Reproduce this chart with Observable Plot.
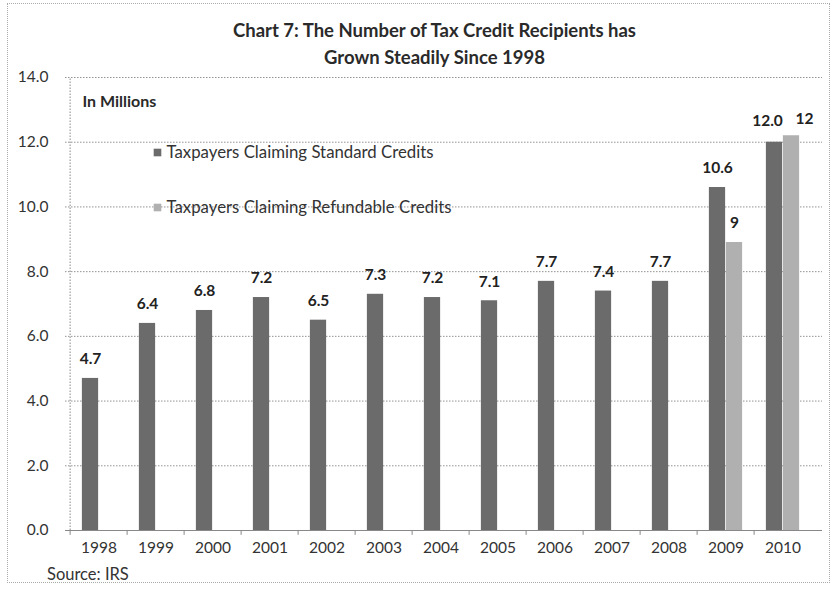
<!DOCTYPE html>
<html><head><meta charset="utf-8">
<script src="https://cdn.jsdelivr.net/npm/d3@7"></script>
<script src="https://cdn.jsdelivr.net/npm/@observablehq/plot@0.6"></script>
<style>
body{margin:0;background:#fff;font-family:Lato,"Open Sans",sans-serif;}
#wrap{position:relative;width:833px;height:592px;overflow:hidden;background:#fff;}
#frame{position:absolute;left:7px;top:3px;width:823px;height:580px;border:1px dotted #aaa;box-sizing:border-box;pointer-events:none;z-index:2;}
#title{height:62px;box-sizing:border-box;padding-top:17px;padding-left:36px;text-align:center;font-weight:bold;font-size:18.5px;line-height:27px;color:#2a2a2a;}
#caption{height:30px;box-sizing:border-box;padding-left:47px;padding-top:2px;font-size:16.5px;color:#333;}
#chart svg{display:block;overflow:visible;}
</style>
</head><body>
<div id="wrap">
<div id="frame"></div>
<div id="title">Chart 7: The Number of Tax Credit Recipients has<br>Grown Steadily Since 1998</div>
<div id="chart"></div>
<div id="caption">Source: IRS</div>
</div>
<script>
const years = ["1998","1999","2000","2001","2002","2003","2004","2005","2006","2007","2008","2009","2010"];
const standard = [4.7,6.4,6.8,7.2,6.5,7.3,7.2,7.1,7.7,7.4,7.7,10.6,12.0];
const standardLabels = ["4.7","6.4","6.8","7.2","6.5","7.3","7.2","7.1","7.7","7.4","7.7","10.6","12.0"];
const refundYears = ["2009","2010"];
const refundable = [8.9,12.2];
const refundLabels = ["9","12"];
const yTicks = [0,2,4,6,8,10,12,14];
const seriesNames = ["Taxpayers Claiming Standard Credits","Taxpayers Claiming Refundable Credits"];
const unitLabel = ["In Millions"];

const stdColor = "#6b6b6b", refColor = "#b0b0b0";
const stdData = years.map((y,i)=>({year:y,value:standard[i],label:standardLabels[i]}));
const refData = refundYears.map((y,i)=>({year:y,value:refundable[i],label:refundLabels[i]}));
const lastYear = years[years.length-1];

const W=833, H=500, mL=65, mR=17;
const bw = (W-mL-mR)/years.length, barW = 17;
const labelFont = {fontWeight:"bold", fontSize:15.5, fill:"#222"};

const chart = Plot.plot({
  width:W, height:H,
  marginTop:15, marginBottom:32, marginLeft:mL, marginRight:mR,
  style:{fontFamily:"Lato, 'Open Sans', sans-serif", background:"white", color:"#333", overflow:"visible"},
  x:{type:"band", domain:years, padding:0, label:null},
  y:{domain:[0,14], label:null},
  marks:[
    Plot.gridY(yTicks,{stroke:"#777", strokeOpacity:1, strokeDasharray:"1.5,1.5", strokeWidth:0.8, insetRight:-6}),
    Plot.ruleX([years[0]],{dx:-bw/2, y1:0, y2:14, stroke:"#888", strokeDasharray:"1.5,1.5"}),
    Plot.ruleY([0],{stroke:"#888", insetRight:-6}),
    Plot.ruleX(years,{x:d=>d, dx:-bw/2, y1:0, y2:-0.15, stroke:"#888"}),
    Plot.axisY(yTicks,{tickSize:0, tickPadding:17, tickFormat:d=>d.toFixed(1), fontSize:15.5, fill:"#333"}),
    Plot.axisX({tickSize:0, tickPadding:11, fontSize:15.5, fill:"#333"}),
    Plot.barY(stdData,{x:"year", y:"value", fill:stdColor, insetLeft:bw/2-barW, insetRight:bw/2}),
    Plot.barY(refData,{x:"year", y:"value", fill:refColor, insetLeft:bw/2, insetRight:bw/2-barW}),
    Plot.text(stdData.filter(d=>d.year!==lastYear),{x:"year", y:"value", text:"label", dx:-barW/2, dy:-19, ...labelFont}),
    Plot.text(stdData.filter(d=>d.year===lastYear),{x:"year", y:"value", text:"label", dx:-barW/2-7, dy:-21, ...labelFont}),
    Plot.text(refData.filter(d=>d.year!==lastYear),{x:"year", y:"value", text:"label", dx:barW/2, dy:-19, ...labelFont}),
    Plot.text(refData.filter(d=>d.year===lastYear),{x:"year", y:"value", text:"label", dx:barW/2+13, dy:-17, ...labelFont}),
    Plot.text(unitLabel,{text:d=>d, frameAnchor:"top-left", dx:17, dy:24, textAnchor:"start", lineAnchor:"middle", fontWeight:"bold", fontSize:16, fill:"#2a2a2a"}),
    Plot.dot([seriesNames[0]],{frameAnchor:"top-left", dx:92, dy:75, symbol:"square", r:4.3, fill:stdColor}),
    Plot.dot([seriesNames[1]],{frameAnchor:"top-left", dx:92, dy:130, symbol:"square", r:4.3, fill:refColor}),
    Plot.text([seriesNames[0]],{text:d=>d, frameAnchor:"top-left", dx:101, dy:75, textAnchor:"start", lineAnchor:"middle", fontSize:16.8, fill:"#333"}),
    Plot.text([seriesNames[1]],{text:d=>d, frameAnchor:"top-left", dx:101, dy:130, textAnchor:"start", lineAnchor:"middle", fontSize:16.8, fill:"#333"})
  ]
});
document.getElementById("chart").appendChild(chart);
</script>
</body></html>
